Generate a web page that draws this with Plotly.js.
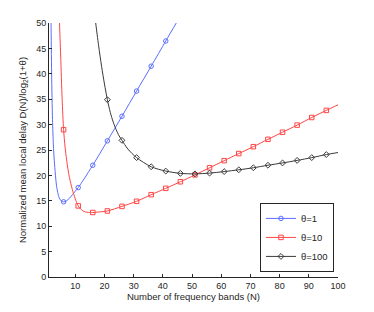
<!DOCTYPE html>
<html>
<head>
<meta charset="utf-8">
<script src="https://cdn.plot.ly/plotly-3.0.1.min.js"></script>
<style>html,body{margin:0;padding:0;background:#fff;}#chart{width:374px;height:312px;}</style>
</head>
<body>
<div id="chart"></div>
<script>
// Series names
var seriesNames = ["θ=1", "θ=10", "θ=100"];

// θ=1 curve
var blueN = [1.6, 1.7, 1.9, 2.2, 2.5, 2.8, 3.0, 3.5, 4.0, 4.5, 5, 5.5, 6, 6.5, 7, 8, 9, 10, 11, 13, 16, 21, 26, 31, 36, 41, 45];
var blueV = [54, 50, 40, 31, 26, 23, 21.5, 18.3, 16.6, 15.6, 15.1, 14.85, 14.8, 14.85, 15.0, 15.5, 16.2, 16.9, 17.6, 19.3, 22.0, 26.8, 31.65, 36.6, 41.5, 46.45, 50.4];
var blueMarkN = [6, 11, 16, 21, 26, 31, 36, 41];
var blueMarkV = [14.8, 17.6, 22.0, 26.8, 31.65, 36.6, 41.5, 46.45];

// θ=10 curve
var redN = [4.4, 4.6, 5.0, 5.5, 6, 6.5, 7, 7.5, 8, 9, 10, 11, 12, 13, 14, 16, 18, 21, 26, 31, 36, 41, 46, 51, 56, 61, 66, 71, 76, 81, 86, 91, 96, 100];
var redV = [53.5, 50, 43.5, 35, 29.0, 25.6, 23.2, 21.2, 19.6, 17.2, 15.4, 14.0, 13.3, 12.9, 12.75, 12.7, 12.8, 13.0, 13.9, 14.9, 16.2, 17.45, 18.75, 20.1, 21.5, 22.9, 24.3, 25.65, 27.1, 28.5, 29.9, 31.4, 32.8, 33.9];
var redMarkN = [6, 11, 16, 21, 26, 31, 36, 41, 46, 51, 56, 61, 66, 71, 76, 81, 86, 91, 96];
var redMarkV = [29.0, 14.0, 12.7, 13.0, 13.9, 14.9, 16.2, 17.45, 18.75, 20.1, 21.5, 22.9, 24.3, 25.65, 27.1, 28.5, 29.9, 31.4, 32.8];

// θ=100 curve
var blackN = [16.5, 17, 18, 19, 20, 21, 22, 23, 24, 25, 26, 28, 31, 36, 41, 46, 51, 56, 61, 66, 71, 76, 81, 86, 91, 96, 100];
var blackV = [52.5, 50, 45.5, 41.5, 38.0, 34.9, 32.4, 30.5, 29.0, 27.8, 26.9, 25.2, 23.5, 21.7, 20.85, 20.4, 20.3, 20.45, 20.75, 21.1, 21.5, 22.0, 22.45, 22.95, 23.5, 24.1, 24.5];
var blackMarkN = [21, 26, 31, 36, 41, 46, 51, 56, 61, 66, 71, 76, 81, 86, 91, 96];
var blackMarkV = [34.9, 26.9, 23.5, 21.7, 20.85, 20.4, 20.3, 20.45, 20.75, 21.1, 21.5, 22.0, 22.45, 22.95, 23.5, 24.1];

// Axis ticks
var xTicks = [10, 20, 30, 40, 50, 60, 70, 80, 90, 100];
var yTicks = [0, 5, 10, 15, 20, 25, 30, 35, 40, 45, 50];

var colors = ["#5a6dff", "#ff4545", "#3a3a3a"];
var symbols = ["circle-open", "square-open", "diamond-open"];
var lines = [[blueN, blueV], [redN, redV], [blackN, blackV]];
var marks = [[blueMarkN, blueMarkV], [redMarkN, redMarkV], [blackMarkN, blackMarkV]];

var data = [];
for (var i = 0; i < 3; i++) {
  data.push({
    x: lines[i][0], y: lines[i][1], type: "scatter", mode: "lines",
    line: {color: colors[i], width: 1, shape: "spline", smoothing: 0.8},
    showlegend: false, hoverinfo: "skip"
  });
  data.push({
    x: marks[i][0], y: marks[i][1], type: "scatter", mode: "markers",
    marker: {symbol: symbols[i], size: 4.5, color: colors[i], line: {width: 1, color: colors[i]}},
    showlegend: false, hoverinfo: "skip"
  });
}
// legend entries
for (var j = 0; j < 3; j++) {
  data.push({
    x: [null], y: [null], type: "scatter", mode: "lines+markers", name: seriesNames[j],
    line: {color: colors[j], width: 1},
    marker: {symbol: symbols[j], size: 4.5, color: colors[j], line: {width: 1, color: colors[j]}}
  });
}

var fontFam = "Liberation Sans, Arial, Helvetica, sans-serif";
var axisCol = "#262626";
var layout = {
  width: 374, height: 312,
  margin: {l: 49, r: 36, t: 23, b: 35, pad: 0},
  paper_bgcolor: "#fff", plot_bgcolor: "#fff",
  font: {family: fontFam, size: 9.5, color: axisCol},
  xaxis: {
    range: [1, 100], tickvals: xTicks, ticktext: xTicks.map(String),
    showgrid: false, zeroline: false, showline: true, linecolor: axisCol, linewidth: 1,
    ticks: "inside", ticklen: 3, tickcolor: axisCol, tickwidth: 1,
    tickfont: {size: 9, color: axisCol}, mirror: false, fixedrange: true,
    title: {text: "Number of frequency bands (N)", font: {size: 9.5, color: axisCol}, standoff: 3}
  },
  yaxis: {
    range: [0, 50], tickvals: yTicks, ticktext: yTicks.map(String),
    showgrid: false, zeroline: false, showline: true, linecolor: axisCol, linewidth: 1,
    ticks: "inside", ticklen: 3, tickcolor: axisCol, tickwidth: 1,
    tickfont: {size: 9, color: axisCol}, mirror: false, fixedrange: true,
    title: {text: "Normalized mean local delay D(N)/log<sub>2</sub>(1+θ)", font: {size: 9.5, color: axisCol}, standoff: 7}
  },
  legend: {
    x: 0.986, y: 0.02, xanchor: "right", yanchor: "bottom",
    bgcolor: "#fff", bordercolor: axisCol, borderwidth: 1,
    font: {size: 9.5, color: axisCol}, itemwidth: 30
  },
  showlegend: true
};

Plotly.newPlot("chart", data, layout, {displayModeBar: false, staticPlot: true});
</script>
</body>
</html>
